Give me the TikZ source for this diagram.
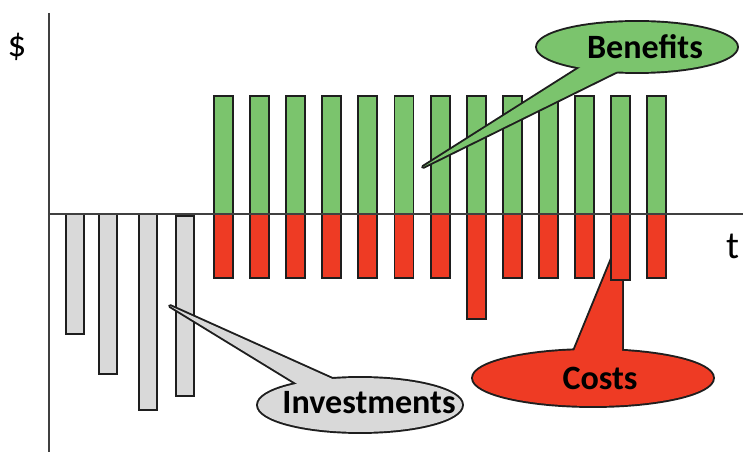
\documentclass[tikz,border=0pt]{standalone}
\usepackage{fontspec}
\setmainfont{Carlito}
\usetikzlibrary{positioning}
\definecolor{bengreen}{RGB}{123,196,109}
\definecolor{costred}{RGB}{238,59,36}
\definecolor{invgray}{RGB}{217,217,217}
\definecolor{inkgray}{RGB}{30,30,30}

\tikzset{
  bar/.style={draw=inkgray, line width=1.1pt},
  axis/.style={draw=inkgray!85, line width=1.2pt},
  halo/.style={draw=inkgray, line width=2.2pt, line join=round},
  lbl/.style={font=\fontsize{19.4}{22}\selectfont\bfseries, inner sep=0pt},
}

\begin{document}
\begin{tikzpicture}[x=0.02cm, y=-0.02cm]
	\useasboundingbox (0,0) rectangle (743,452);

	% costs bubble, lies under the bars
	\path[halo] (593,378) ellipse [x radius=2.4cm, y radius=0.56cm];
	\path[halo] (572,356) -- (613,256) -- (622,262) -- (622,356) -- cycle;
	\fill[costred] (593,378) ellipse [x radius=2.4cm, y radius=0.56cm];
	\fill[costred] (572,356) -- (613,256) -- (622,262) -- (622,356) -- cycle;

	% investments
	\foreach \x/\a/\b in {66/214/334, 99/214/374, 139/214/410, 176/216/396}
		\draw[bar, fill=invgray] (\x,\a) rectangle (\x+18,\b);

	% benefits and costs per period
	\foreach \i/\b in {0/278, 1/278, 2/278, 3/278, 4/278, 5/278, 6/278,
	                   7/319, 8/278, 9/278, 10/278, 11/280, 12/278}{
		\draw[bar, fill=bengreen] ({214+36.1*\i},96) rectangle ++(19,118);
		\draw[bar, fill=costred] ({214+36.1*\i},214) rectangle ({233+36.1*\i},\b);
	}

	% axes
	\coordinate (origin) at (49,214);
	\coordinate (ytop) at (49,13);
	\coordinate (ybot) at (49,452);
	\coordinate (tend) at (743,214);
	\draw[axis] (ytop) -- (ybot);
	\draw[axis] (origin) -- (tend);

	% benefits bubble
	\path[halo] (637,47) ellipse [x radius=2cm, y radius=0.5cm];
	\path[halo] (592,60) -- (423,167) -- (632,64) -- cycle;
	\fill[bengreen] (637,47) ellipse [x radius=2cm, y radius=0.5cm];
	\fill[bengreen] (592,60) -- (423,167) -- (632,64) -- cycle;

	% investments bubble
	\path[halo] (360,405) ellipse [x radius=2.04cm, y radius=0.54cm];
	\path[halo] (304,388) -- (170,306) -- (348,386) -- cycle;
	\fill[invgray] (360,405) ellipse [x radius=2.04cm, y radius=0.54cm];
	\fill[invgray] (304,388) -- (170,306) -- (348,386) -- cycle;

	\node[lbl] (ben) at (645,47) {Benefits};
	\node[lbl] (cost) at (600,378) {Costs};
	\node[lbl] (inv) at (369,403) {Investments};
	\node[font=\fontsize{21}{24}\selectfont, inner sep=0pt] (dollar) at (17,47) {\$};
	\node[font=\fontsize{22}{26}\selectfont, inner sep=0pt] (tlab) at (733,246) {t};
\end{tikzpicture}
\end{document}
